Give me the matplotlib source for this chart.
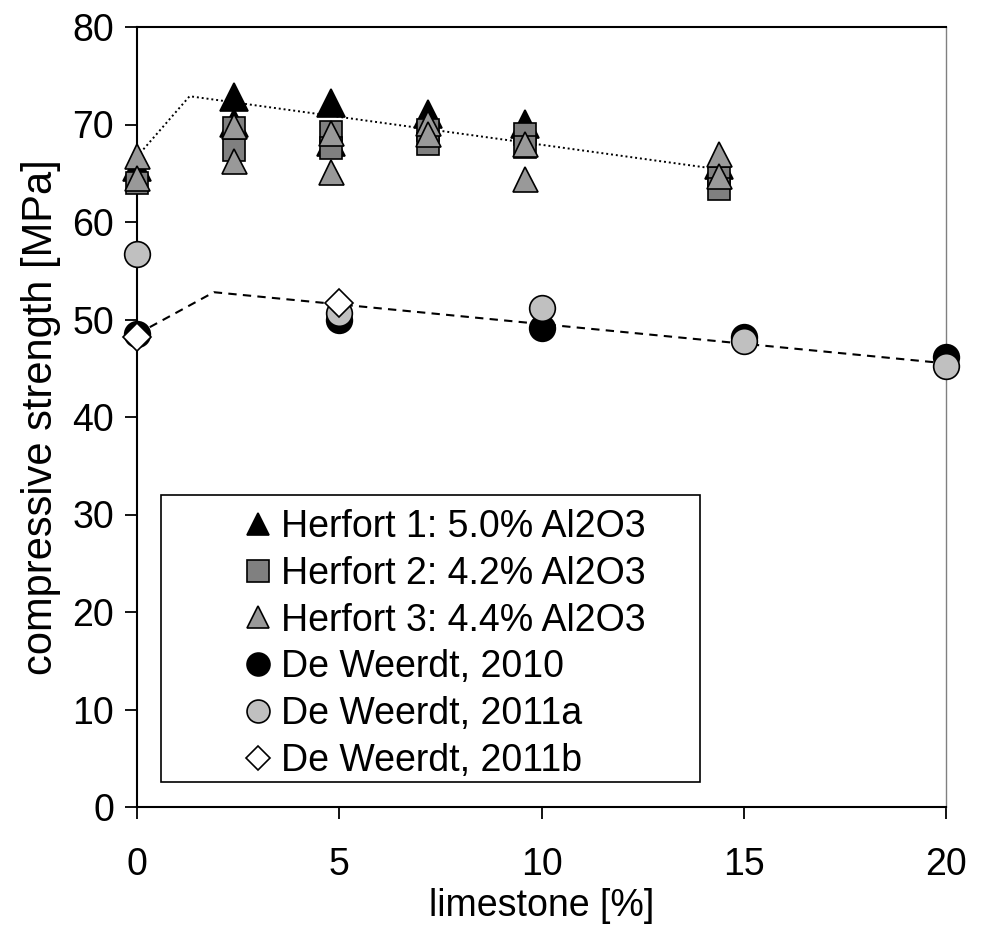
import matplotlib
matplotlib.use("Agg")
import matplotlib.pyplot as plt
from matplotlib.patches import Rectangle
from matplotlib.lines import Line2D

plt.rcParams['font.family'] = ['Liberation Sans', 'DejaVu Sans']

# Herfort clinkers: limestone content [%] vs. compressive strength [MPa]
herfort1_x = [0, 2.4, 2.4, 4.8, 4.8, 7.2, 9.6, 14.4]
herfort1_y = [65.6, 72.8, 70.2, 72.2, 68.2, 71.1, 70.1, 65.8]
herfort2_x = [0, 2.4, 2.4, 4.8, 4.8, 7.2, 7.2, 9.6, 9.6, 14.4, 14.4]
herfort2_y = [64.0, 69.6, 67.4, 69.2, 67.6, 69.4, 68.0, 69.0, 67.7, 64.5, 63.4]
herfort3_x = [0, 0, 2.4, 2.4, 4.8, 4.8, 7.2, 7.2, 9.6, 9.6, 14.4, 14.4]
herfort3_y = [66.8, 64.5, 69.8, 66.3, 69.1, 65.1, 70.2, 69.0, 68.0, 64.4, 67.0, 64.7]

# De Weerdt series
dw2010_x = [0, 5, 10, 15, 20]
dw2010_y = [48.5, 49.9, 49.1, 48.2, 46.2]
dw2011a_x = [0, 5, 10, 15, 20]
dw2011a_y = [56.7, 50.7, 51.2, 47.8, 45.2]
dw2011b_x = [0, 5]
dw2011b_y = [48.2, 51.7]

# piecewise trend lines
trend_herfort_x = [0, 1.3, 14.4]
trend_herfort_y = [66.7, 72.9, 65.4]
trend_dw_x = [0, 1.9, 20]
trend_dw_y = [48.5, 52.8, 45.5]

labels = ["Herfort 1: 5.0% Al2O3", "Herfort 2: 4.2% Al2O3",
          "Herfort 3: 4.4% Al2O3", "De Weerdt, 2010",
          "De Weerdt, 2011a", "De Weerdt, 2011b"]

x_ticks = [0, 5, 10, 15, 20]
y_ticks = [0, 10, 20, 30, 40, 50, 60, 70, 80]

FS = 27

fig = plt.figure(figsize=(9.81, 9.39), dpi=100)
ax = fig.add_axes([137 / 981, 1 - 807 / 939, (946 - 137) / 981, (807 - 27) / 939])

ax.plot(trend_herfort_x, trend_herfort_y, color='black', lw=1.4, ls=(0, (1, 1.5)), zorder=2)
ax.plot(trend_dw_x, trend_dw_y, color='black', lw=1.5, ls=(0, (4, 3)), zorder=2)

ew = 1.2
styles = [
    (herfort1_x, herfort1_y, dict(marker='^', ms=19.5, mfc='black', mec='black')),
    (herfort2_x, herfort2_y, dict(marker='s', ms=15.5, mfc='#808080', mec='black')),
    (herfort3_x, herfort3_y, dict(marker='^', ms=18, mfc='#999999', mec='black')),
    (dw2010_x, dw2010_y, dict(marker='o', ms=18.5, mfc='black', mec='black')),
    (dw2011a_x, dw2011a_y, dict(marker='o', ms=18.5, mfc='#C0C0C0', mec='black')),
    (dw2011b_x, dw2011b_y, dict(marker='D', ms=14, mfc='white', mec='black')),
]
handles = []
for i, (xs, ys, st) in enumerate(styles):
    ax.plot(xs, ys, ls='none', mew=ew, clip_on=False, zorder=3 + i, **st)
    leg_st = dict(st)
    leg_st['ms'] = 16.5 if st['marker'] != 'D' else 12.5
    handles.append(Line2D([], [], ls='none', mew=ew, **leg_st))

ax.set_xlim(0, 20)
ax.set_ylim(0, 80)
ax.set_xticks(x_ticks)
ax.set_yticks(y_ticks)
ax.tick_params(axis='both', direction='out', length=8.5, width=1.3, labelsize=FS)
ax.tick_params(axis='x', pad=20)
ax.tick_params(axis='y', pad=8)
ax.tick_params(top=False, right=False)

for side in ['left', 'bottom', 'top']:
    ax.spines[side].set_linewidth(1.5)
    ax.spines[side].set_color('black')
ax.spines['right'].set_linewidth(1.0)
ax.spines['right'].set_color('#808080')

ax.set_xlabel("limestone [%]", fontsize=FS, labelpad=4)
ax.set_ylabel("compressive strength [MPa]", fontsize=30, labelpad=8)

# legend box
ax.add_patch(Rectangle((0.0297, 0.032), 0.666, 0.368, transform=ax.transAxes,
                       fill=True, facecolor='white', edgecolor='black', lw=1.2, zorder=10))
leg = ax.legend(handles, labels, loc='upper left', bbox_to_anchor=(0.098, 0.416),
                frameon=False, fontsize=FS, handlelength=0.8, handletextpad=0.22,
                labelspacing=0.29, borderpad=0.2)
leg.set_zorder(11)

fig.savefig("out.png", dpi=100)
